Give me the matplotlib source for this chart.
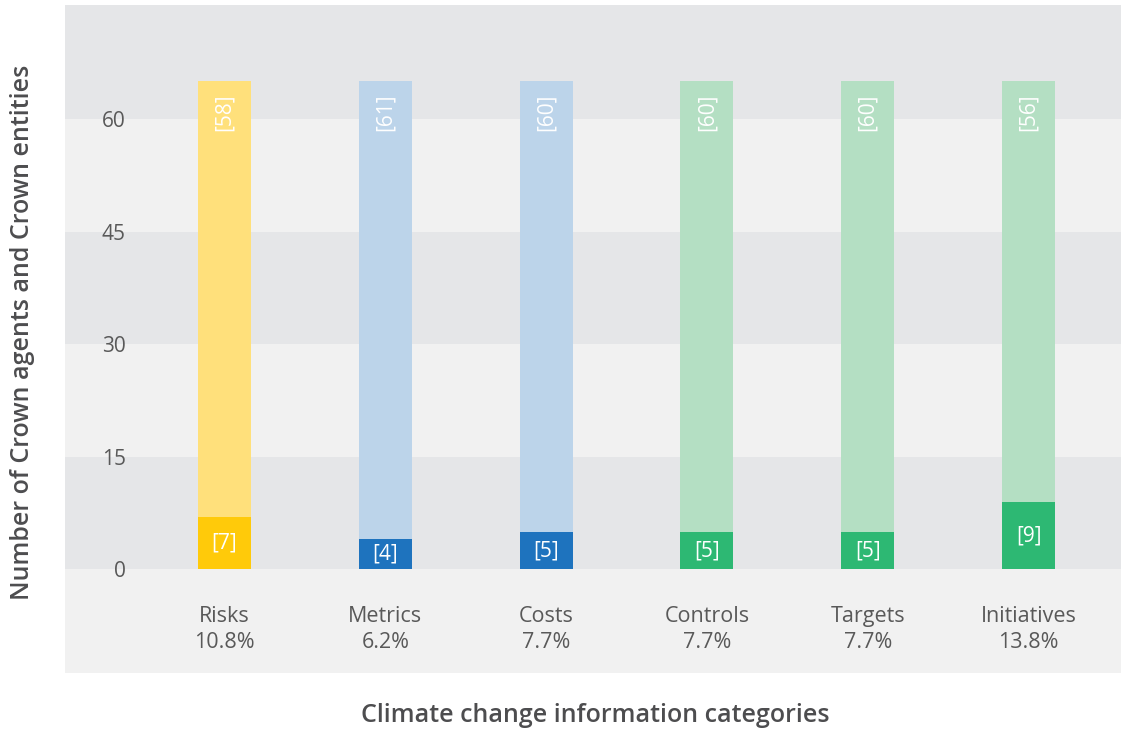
import matplotlib
matplotlib.use("Agg")
import matplotlib.pyplot as plt
import numpy as np

# data
categories = ["Risks", "Metrics", "Costs", "Controls", "Targets", "Initiatives"]
shares = ["10.8%", "6.2%", "7.7%", "7.7%", "7.7%", "13.8%"]
with_info = [7, 4, 5, 5, 5, 9]
without_info = [58, 61, 60, 60, 60, 56]
yticks = [0, 15, 30, 45, 60]

# colours: (light part, dark part) per bar
light_cols = ["#FFE07B", "#BCD4EA", "#BCD4EA", "#B4DFC3", "#B4DFC3", "#B4DFC3"]
dark_cols = ["#FFCA0A", "#1E73BE", "#1E73BE", "#2DB873", "#2DB873", "#2DB873"]
band_dark = "#E5E6E8"
band_light = "#F1F1F1"
text_col = "#595959"
title_col = "#4D4D4F"

W, H = 1121, 731
fig = plt.figure(figsize=(W / 100, H / 100), dpi=100)
ax = fig.add_axes([65 / W, (H - 672.7) / H, (W - 65) / W, (672.7 - 5) / H])

ymin, ymax = -13.75, 75.18
ax.set_xlim(-0.992, 5.575)
ax.set_ylim(ymin, ymax)

# alternating background bands
ax.set_facecolor(band_light)
edges = yticks + [ymax]
for i in range(len(edges) - 1):
    col = band_dark if i % 2 == 0 else band_light
    ax.axhspan(edges[i], edges[i + 1], color=col, lw=0, zorder=0)

x = np.arange(len(categories))
bw = 0.33
ax.bar(x, with_info, bw, color=dark_cols, zorder=2)
ax.bar(x, without_info, bw, bottom=with_info, color=light_cols, zorder=2)

for i in range(len(categories)):
    ax.text(x[i], with_info[i] / 2, "[%d]" % with_info[i], ha="center", va="center",
            color="white", fontsize=15, family="Open Sans", zorder=3)
    top = with_info[i] + without_info[i]
    ax.text(x[i], top - 1.6, "[%d]" % without_info[i], ha="center", va="top",
            rotation=90, color="white", fontsize=15, family="Open Sans", zorder=3)
    ax.text(x[i], -4.85, categories[i] + "\n" + shares[i], ha="center", va="top",
            color=text_col, fontsize=15.5, family="Open Sans", linespacing=1.33)

ax.set_yticks(yticks)
ax.set_yticklabels([str(t) for t in yticks], family="Open Sans", fontsize=15, color=text_col)
ax.tick_params(axis="y", length=0, pad=-43.9)
ax.set_xticks([])
for s in ax.spines.values():
    s.set_visible(False)

fig.text(595 / W, 1 - 715 / H, "Climate change information categories", ha="center", va="center",
         fontsize=18, family="Open Sans", fontweight="semibold", color=title_col)
fig.text(23 / W, 1 - 332 / H, "Number of Crown agents and Crown entities", ha="center", va="center",
         rotation=90, fontsize=18, family="Open Sans", fontweight="semibold", color=title_col)

fig.savefig("out.png", dpi=100)
